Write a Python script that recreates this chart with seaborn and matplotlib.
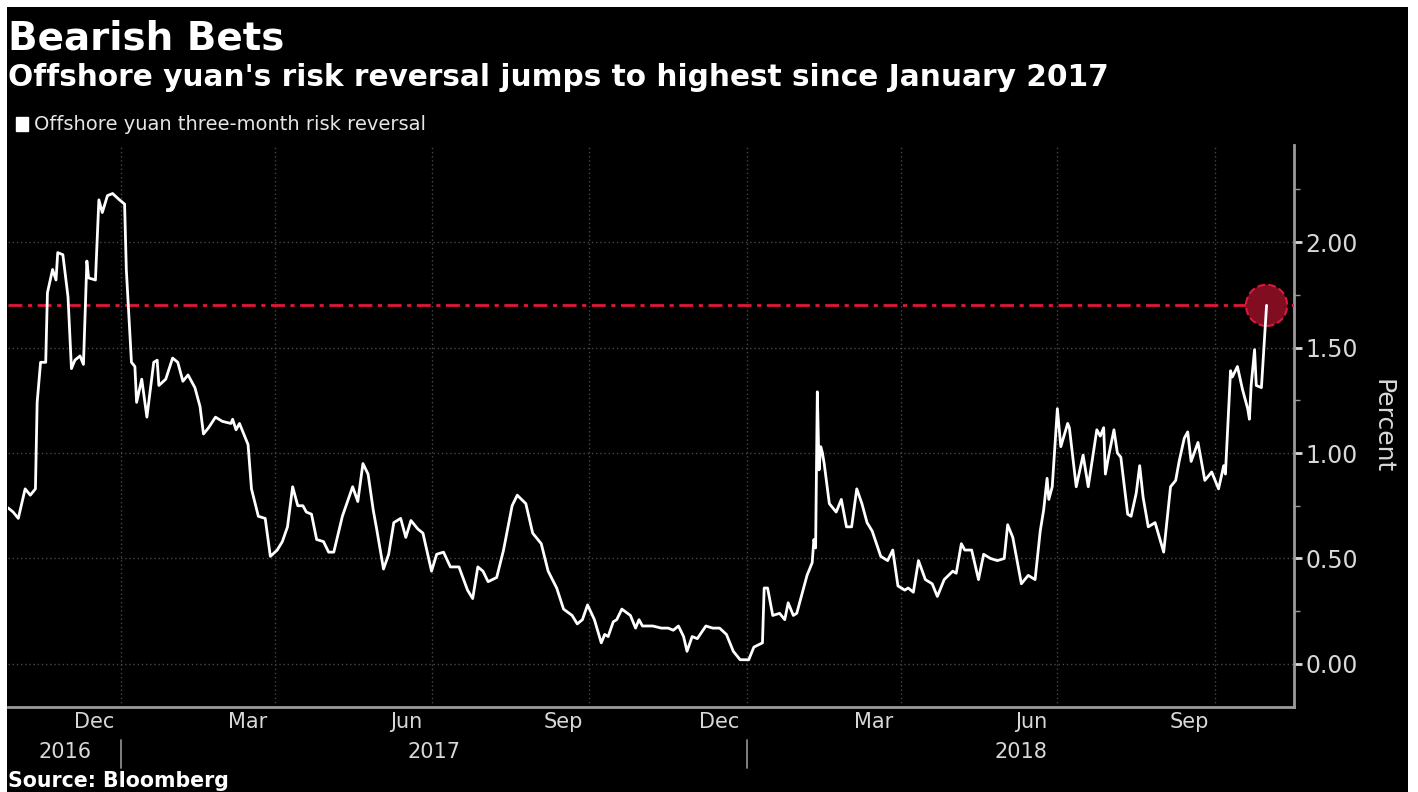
import matplotlib
matplotlib.use("Agg")
import pandas as pd
import matplotlib.pyplot as plt
import matplotlib.dates as mdates
import seaborn as sns
from matplotlib.patches import Rectangle, Patch
from matplotlib.ticker import MultipleLocator, FormatStrFormatter

# days counted from 2017-01-01, value in percent
days = [-66, -63, -60, -56, -53, -50, -49, -47, -44, -43, -40, -38, -37, -34, -31, -29, -27, -24,
        -22, -20, -19, -15, -13, -11, -8, -5, -1, 2, 3, 6, 8, 9, 12, 13, 15, 19, 21, 22, 26, 30,
        33, 36, 39, 43, 46, 48, 51, 55, 59, 64, 65, 67, 69, 74, 76, 80, 84, 87, 91, 94, 97, 100,
        103, 106, 108, 111, 114, 118, 121, 124, 129, 135, 138, 141, 144, 147, 149, 153, 156, 159,
        163, 166, 169, 173, 176, 181, 184, 188, 192, 197, 202, 205, 208, 211, 214, 219, 223, 228,
        231, 236, 240, 245, 249, 254, 258, 263, 266, 269, 272, 276, 280, 282, 284, 287, 289, 292,
        297, 300, 302, 304, 310, 315, 319, 322, 325, 328, 330, 333, 336, 341, 345, 349, 353, 357,
        361, 366, 369, 374, 375, 377, 380, 384, 387, 389, 392, 394, 397, 400, 403, 404, 405, 406,
        407, 408, 409, 410, 413, 417, 420, 423, 426, 429, 432, 435, 438, 443, 447, 450, 453, 457,
        459, 462, 465, 469, 473, 476, 480, 485, 487, 490, 492, 496, 500, 503, 507, 511, 515, 517,
        520, 525, 529, 533, 536, 538, 540, 541, 543, 546, 548, 552, 553, 557, 561, 564, 569, 571,
        573, 574, 576, 579, 581, 583, 587, 589, 592, 594, 596, 599, 603, 608, 612, 615, 617, 620,
        622, 624, 628, 632, 636, 640, 643, 644, 647, 648, 651, 654, 657, 658, 659, 661, 662, 665,
        668]
risk_reversal = [0.74, 0.72, 0.69, 0.83, 0.80, 0.83, 1.24, 1.43, 1.43, 1.76, 1.87, 1.82, 1.95, 1.94,
                 1.74, 1.40, 1.44, 1.46, 1.42, 1.91, 1.83, 1.82, 2.20, 2.14, 2.22, 2.23, 2.20, 2.18,
                 1.87, 1.43, 1.41, 1.24, 1.35, 1.29, 1.17, 1.43, 1.44, 1.32, 1.35, 1.45, 1.43, 1.34,
                 1.37, 1.31, 1.22, 1.09, 1.12, 1.17, 1.15, 1.14, 1.16, 1.11, 1.14, 1.04, 0.83, 0.70,
                 0.69, 0.51, 0.54, 0.58, 0.65, 0.84, 0.75, 0.75, 0.72, 0.71, 0.59, 0.58, 0.53, 0.53,
                 0.70, 0.84, 0.77, 0.95, 0.90, 0.73, 0.64, 0.45, 0.52, 0.67, 0.69, 0.60, 0.68, 0.64,
                 0.62, 0.44, 0.52, 0.53, 0.46, 0.46, 0.35, 0.31, 0.46, 0.44, 0.39, 0.41, 0.54, 0.75,
                 0.80, 0.76, 0.62, 0.57, 0.44, 0.36, 0.26, 0.23, 0.19, 0.21, 0.28, 0.21, 0.10, 0.14,
                 0.13, 0.20, 0.21, 0.26, 0.23, 0.17, 0.21, 0.18, 0.18, 0.17, 0.17, 0.16, 0.18, 0.13,
                 0.06, 0.13, 0.12, 0.18, 0.17, 0.17, 0.14, 0.06, 0.02, 0.02, 0.08, 0.10, 0.36, 0.36,
                 0.23, 0.24, 0.21, 0.29, 0.23, 0.24, 0.33, 0.42, 0.48, 0.59, 0.55, 1.29, 0.92, 1.03,
                 1.00, 0.95, 0.76, 0.72, 0.78, 0.65, 0.65, 0.83, 0.76, 0.67, 0.63, 0.51, 0.49, 0.54,
                 0.37, 0.35, 0.36, 0.34, 0.49, 0.40, 0.38, 0.32, 0.40, 0.44, 0.43, 0.57, 0.54, 0.54,
                 0.40, 0.52, 0.50, 0.49, 0.50, 0.66, 0.60, 0.38, 0.42, 0.40, 0.63, 0.73, 0.88, 0.78,
                 0.84, 1.21, 1.03, 1.14, 1.12, 0.84, 0.99, 0.84, 1.11, 1.08, 1.12, 0.90, 0.99, 1.11,
                 1.00, 0.98, 0.71, 0.70, 0.81, 0.94, 0.79, 0.65, 0.67, 0.53, 0.84, 0.87, 0.96, 1.07,
                 1.10, 0.96, 1.05, 0.87, 0.91, 0.83, 0.94, 0.90, 1.39, 1.36, 1.41, 1.30, 1.21, 1.16,
                 1.32, 1.49, 1.32, 1.31, 1.70]

month_labels = ["Dec", "Mar", "Jun", "Sep", "Dec", "Mar", "Jun", "Sep"]
month_label_dates = ["2016-12-16", "2017-03-16", "2017-06-16", "2017-09-16",
                     "2017-12-16", "2018-03-16", "2018-06-16", "2018-09-16"]
years = [2016, 2017, 2018]
y_ticks = [0.0, 0.5, 1.0, 1.5, 2.0]

start = pd.Timestamp("2017-01-01")
df = pd.DataFrame({"date": start + pd.to_timedelta(days, unit="D"), "rr": risk_reversal})
x0 = start - pd.Timedelta(days=66)
x1 = start + pd.Timedelta(days=684)

W, H = 1418, 792
sns.set_theme(style="dark")
plt.rcParams["font.family"] = ["DejaVu Sans"]

fig = plt.figure(figsize=(W / 100, H / 100), dpi=100, facecolor="white")
fig.patches.append(Rectangle((7 / W, 0), 1401 / W, 785 / H, transform=fig.transFigure,
                             facecolor="black", edgecolor="none", zorder=-5))
ax = fig.add_axes([8 / W, 1 - 707 / H, 1286 / W, 562 / H])
ax.set_zorder(2)
ax.set_facecolor("black")

sns.lineplot(data=df, x="date", y="rr", ax=ax, color="white", lw=2, zorder=4)

last = df.iloc[-1]
ax.axhline(last["rr"], color="#e0173a", lw=2, ls=(0, (5, 2, 1.5, 2)), zorder=3)
ax.scatter([last["date"]], [last["rr"]], s=880, facecolor="#800d20", edgecolor="#e0173a",
           linewidths=1.5, linestyle="--", zorder=3)

ax.set_xlim(x0, x1)
ax.set_ylim(-0.204, 2.46)

# y axis on the right
ax.yaxis.tick_right()
ax.set_yticks(y_ticks)
ax.yaxis.set_major_formatter(FormatStrFormatter("%.2f"))
ax.yaxis.set_minor_locator(MultipleLocator(0.25))
ax.tick_params(axis="y", which="major", colors="#d8d8d8", labelsize=17, length=6, width=2,
               direction="out", pad=2)
ax.tick_params(axis="y", which="minor", colors="#9a9a9a", length=4, width=1, direction="out")
ax.set_ylabel("Percent", rotation=270, color="#d8d8d8", fontsize=18, labelpad=0)
ax.yaxis.set_label_position("right")
ax.yaxis.set_label_coords((1394 - 8) / 1286, 0.5)

# x axis: quarter ticks + gridlines, monthly minor ticks
ax.xaxis.set_major_locator(mdates.MonthLocator(bymonth=[1, 4, 7, 10]))
ax.xaxis.set_minor_locator(mdates.MonthLocator())
ax.xaxis.set_major_formatter(plt.NullFormatter())
ax.tick_params(axis="x", which="major", colors="#9a9a9a", length=5, width=1.2, direction="out")
ax.tick_params(axis="x", which="minor", colors="#9a9a9a", length=4, width=1, direction="out")
ax.set_xlabel("")

ax.grid(True, which="major", color="#474747", ls=(0, (1, 2)), lw=1)
for s in ["left", "top"]:
    ax.spines[s].set_visible(False)
for s in ["right", "bottom"]:
    ax.spines[s].set_color("#9a9a9a")
    ax.spines[s].set_linewidth(2)

xt = ax.get_xaxis_transform()
for lab, d in zip(month_labels, month_label_dates):
    ax.annotate(lab, xy=(mdates.date2num(pd.Timestamp(d)), 0), xycoords=xt, xytext=(0, -15),
                textcoords="offset pixels", ha="center", va="center", color="#d8d8d8", fontsize=15)
for yr in years:
    a = max(x0, pd.Timestamp(f"{yr}-01-01"))
    b = min(x1, pd.Timestamp(f"{yr + 1}-01-01"))
    mid = mdates.date2num(a + (b - a) / 2)
    ax.annotate(str(yr), xy=(mid, 0), xycoords=xt, xytext=(0, -45),
                textcoords="offset pixels", ha="center", va="center", color="#d8d8d8", fontsize=15)
    if yr > years[0]:
        an = mdates.date2num(a)
        ax.plot([an, an], [-0.058, -0.108], transform=xt, clip_on=False, color="#8a8a8a", lw=1.3)

fig.text(8 / W, 1 - 38 / H, "Bearish Bets", color="white", fontsize=28, fontweight="bold",
         va="center", ha="left")
fig.text(8 / W, 1 - 78 / H, "Offshore yuan's risk reversal jumps to highest since January 2017",
         color="white", fontsize=21.3, fontweight="bold", va="center", ha="left")
ax.legend(handles=[Patch(facecolor="white", edgecolor="white")],
          labels=["Offshore yuan three-month risk reversal"], loc="center left",
          bbox_to_anchor=(16 / W, 1 - 125 / H), bbox_transform=fig.transFigure, frameon=False,
          handlelength=0.6, handleheight=0.7, handletextpad=0.3, borderpad=0, borderaxespad=0,
          labelcolor="#e6e6e6", fontsize=14)
fig.text(8 / W, 1 - 781 / H, "Source: Bloomberg", color="white", fontsize=14.8,
         fontweight="bold", va="center", ha="left")

fig.savefig("out.png", dpi=100, facecolor=fig.get_facecolor())
